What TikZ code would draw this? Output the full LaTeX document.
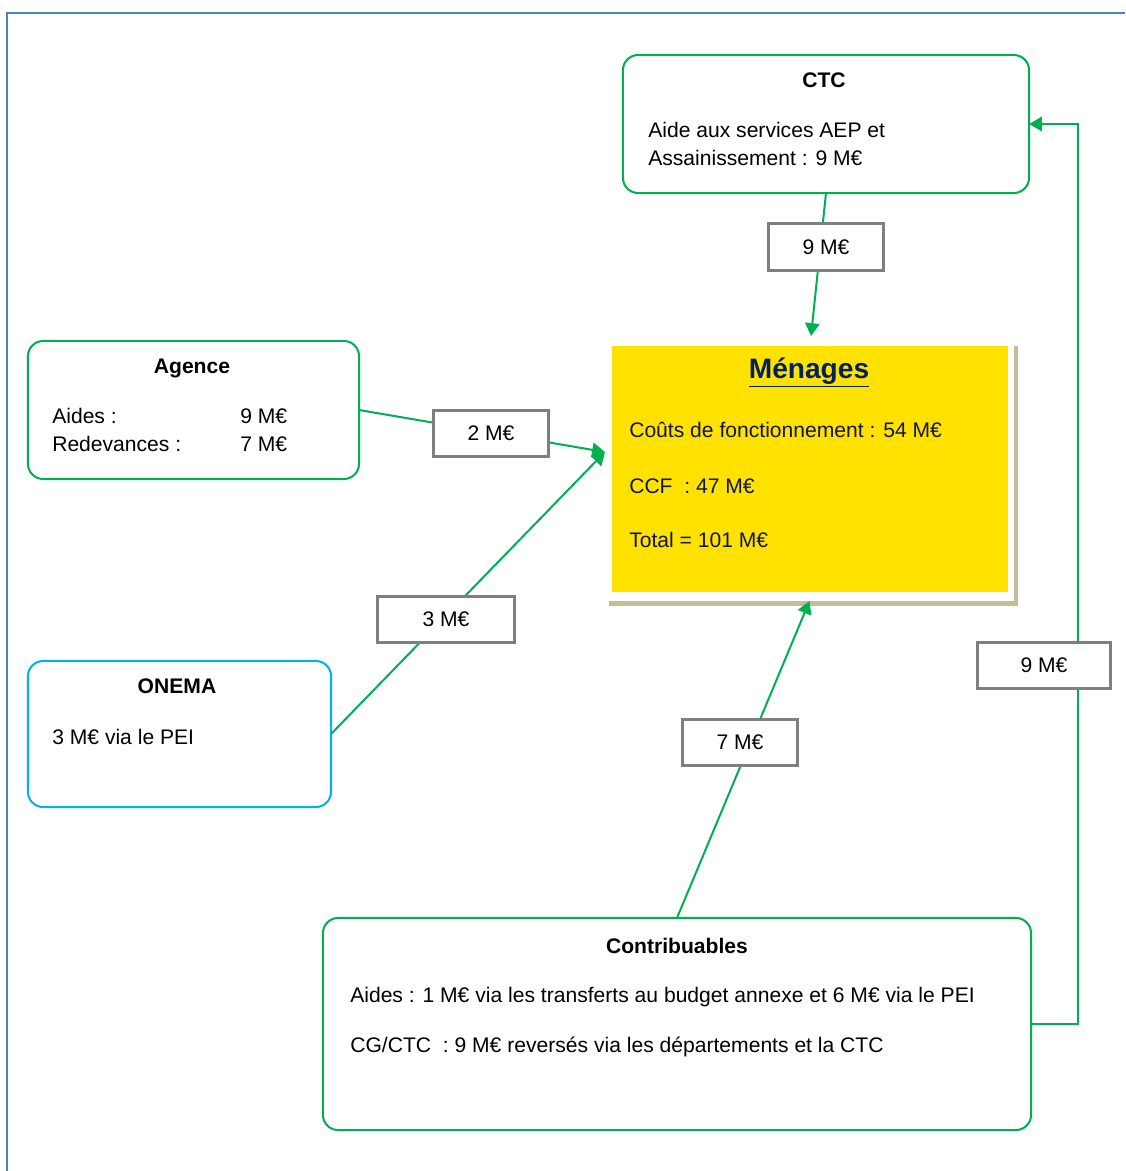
\documentclass[tikz,border=0pt]{standalone}
\usepackage{fontspec}
\setmainfont{Liberation Sans}
\usetikzlibrary{arrows.meta,shadows,calc,positioning}
\definecolor{flowgreen}{RGB}{0,176,80}
\definecolor{onemablue}{RGB}{0,176,240}
\definecolor{framblue}{RGB}{79,129,189}
\definecolor{lblgray}{RGB}{127,127,127}
\definecolor{menyellow}{RGB}{255,226,0}
\definecolor{shadkhaki}{RGB}{196,189,151}
\definecolor{mnavy}{RGB}{0,32,96}
\definecolor{mtext}{RGB}{20,20,70}

\begin{document}
\begin{tikzpicture}[x=0.025cm,y=-0.025cm,font=\fontsize{15}{18}\selectfont,
  box/.style={draw=flowgreen,line width=0.05cm,rounded corners=0.38cm,fill=white,outer sep=0pt,inner sep=0pt},
  onemabox/.style={box,draw=onemablue},
  flow/.style={draw=flowgreen,line width=0.05cm,-{Triangle[length=0.32cm,width=0.36cm]}},
  lbl/.style={draw=lblgray,line width=0.075cm,fill=white,minimum width=2.875cm,minimum height=1.15cm,inner sep=0pt},
  txt/.style={anchor=base west,inner sep=0pt},
  ttl/.style={anchor=base,inner sep=0pt,font=\fontsize{15}{18}\selectfont\bfseries}]
\useasboundingbox (0,0) rectangle (1125,1171);
\draw[framblue,line width=0.05cm] (7,1171) -- (7,13) -- (1125,13);

% boxes
\node[box,minimum width=10.15cm,minimum height=3.45cm] (ctc) at (826,124) {};
\node[box,minimum width=8.275cm,minimum height=3.45cm] (agence) at (193.5,410) {};
\node[onemabox,minimum width=7.575cm,minimum height=3.65cm] (onema) at (179.5,734) {};
\node[box,minimum width=17.7cm,minimum height=5.3cm] (contrib) at (677,1024) {};
\node[fill=white,outer sep=0pt,inner sep=0pt,minimum width=10.225cm,minimum height=6.5cm,
  drop shadow={shadow xshift=0.1cm,shadow yshift=-0.125cm,fill=shadkhaki,opacity=1}] (men) at (809.5,471) {};
\fill[menyellow] ($(men.north west)+(7,5)$) rectangle ($(men.south east)+(-6,-9)$);

% texts
\node[ttl] (ctct) at (824,87) {CTC};
\node[txt] (ctc1) at (648,137) {Aide aux services AEP et};
\node[txt] (ctc2) at (648,165) {Assainissement : 9 M€};
\node[ttl] (aget) at (192,373) {Agence};
\node[txt] (age1) at (52,423) {Aides :};
\node[txt] (age2) at (240,423) {9 M€};
\node[txt] (age3) at (52,451) {Redevances :};
\node[txt] (age4) at (240,451) {7 M€};
\node[ttl] (onet) at (177,693) {ONEMA};
\node[txt] (one1) at (52,744) {3 M€ via le PEI};
\node[ttl] (cont) at (677,953) {Contribuables};
\node[txt] (con1) at (350,1002) {Aides : 1 M€ via les transferts au budget annexe et 6 M€ via le PEI};
\node[txt] (con2) at (350,1052) {CG/CTC~ : 9 M€ reversés via les départements et la CTC};
\node[ttl,font=\fontsize{20}{24}\selectfont\bfseries,text=mnavy] (ment) at (809,378) {\underline{Ménages}};
\node[txt,text=mtext] (men1) at (629,437) {Coûts de fonctionnement : 54 M€};
\node[txt,text=mtext] (men2) at (629,493) {CCF~ : 47 M€};
\node[txt,text=mtext] (men3) at (629,547) {Total = 101 M€};

% connectors
\coordinate (mtop) at ($(men.north)+(1.5,-5)$);
\coordinate (mleft) at ($(men.west)+(0,-19)$);
\draw[flow] (ctc.south) -- (mtop);
\draw[flow] (agence.east) -- (mleft);
\draw[flow] (onema.east) -- (mleft);
\draw[flow] (contrib.north) -- (men.south);
\draw[flow] (contrib.east) -- ++(47,0) |- (ctc.east);

% amounts
\node[lbl] (l1) at (826,247) {9 M€};
\node[lbl] (l2) at (491,433) {2 M€};
\node[lbl,minimum width=3.4cm] (l3) at (446,619) {3 M€};
\node[lbl] (l4) at (740,742) {7 M€};
\node[lbl,minimum width=3.3cm] (l5) at (1044,665) {9 M€};
\end{tikzpicture}
\end{document}
